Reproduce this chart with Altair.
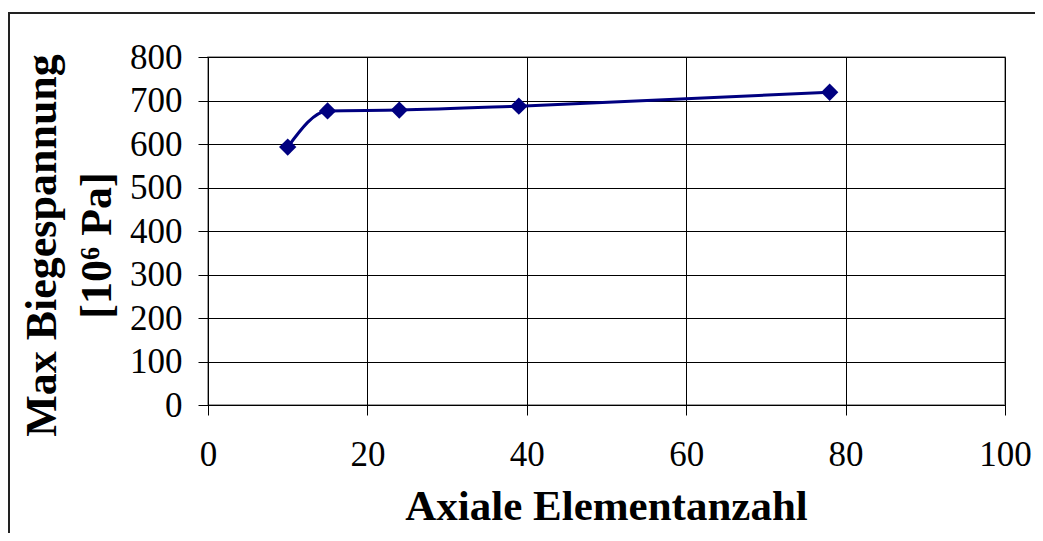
import altair as alt
import pandas as pd

elements = [10, 15, 24, 39, 78]
stress = [593, 676, 678, 687, 719]

x_ticks = [0, 20, 40, 60, 80, 100]
y_ticks = [0, 100, 200, 300, 400, 500, 600, 700, 800]

df = pd.DataFrame({"Axiale Elementanzahl": elements, "Max Biegespannung": stress})

FONT = "Liberation Serif"
NAVY = "#000080"

x_enc = alt.X(
    "Axiale Elementanzahl:Q",
    scale=alt.Scale(domain=[0, 100], nice=False),
    axis=alt.Axis(
        values=x_ticks,
        title="Axiale Elementanzahl",
        titleFont=FONT,
        titleFontSize=43,
        titleFontWeight="bold",
        titleColor="black",
        titleX=398,
        titleY=114,
        titleAlign="center",
        titleBaseline="alphabetic",
        titleAnchor="middle",
        labelFont=FONT,
        labelFontSize=35,
        labelColor="black",
        labelPadding=22,
        tickSize=10,
        tickColor="black",
        domainColor="black",
        gridColor="black",
        gridWidth=1,
        labelFlush=False,
    ),
)

y_enc = alt.Y(
    "Max Biegespannung:Q",
    scale=alt.Scale(domain=[0, 800], nice=False),
    axis=alt.Axis(
        values=y_ticks,
        title=["Max Biegespannung", "[10\u2076 Pa]"],
        titleFont=FONT,
        titleFontSize=44,
        titleFontWeight="bold",
        titleColor="black",
        titleAngle=270,
        titleX=-153,
        titleY=188,
        titleAlign="center",
        titleBaseline="alphabetic",
        titleLineHeight=55,
        labelFont=FONT,
        labelFontSize=35,
        labelColor="black",
        labelPadding=16,
        tickSize=10,
        tickColor="black",
        domainColor="black",
        gridColor="black",
        gridWidth=1,
        labelFlush=False,
    ),
)

base = alt.Chart(df)

line = base.mark_line(
    color=NAVY, strokeWidth=3, interpolate="monotone"
).encode(x=x_enc, y=y_enc)

points = base.mark_point(
    shape="diamond", filled=True, color=NAVY, size=300, opacity=1
).encode(x="Axiale Elementanzahl:Q", y="Max Biegespannung:Q")

frame = alt.Chart(pd.DataFrame({"a": [0]})).mark_rect(
    fill=None, stroke="#222222", strokeWidth=2, clip=False
).encode(
    x=alt.value(-199), x2=alt.value(860), y=alt.value(-44), y2=alt.value(500)
)

chart = alt.layer(line, points, frame).properties(
    width=797,
    height=348,
    autosize=alt.AutoSizeParams(type="none"),
    padding={"left": 200, "top": 49, "right": 30, "bottom": 128},
    background="white",
).configure_view(
    stroke="#808080", strokeWidth=1.5
)

chart.save("out.html", embed_options={"renderer": "svg", "actions": False})
